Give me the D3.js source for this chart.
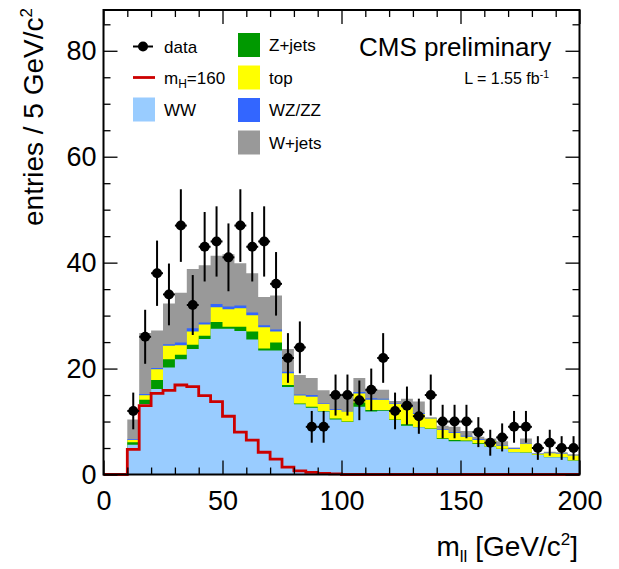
<!DOCTYPE html>
<html>
<head>
<meta charset="utf-8">
<script src="https://cdn.jsdelivr.net/npm/d3@7/dist/d3.min.js"></script>
<style>
  html, body { margin: 0; padding: 0; background: #fff; }
  svg { display: block; font-family: "Liberation Sans", Arial, Helvetica, sans-serif; }
</style>
</head>
<body>
<svg id="chart" width="619" height="569"></svg>
<script>
// ---- data (5 GeV bins, lower edges) ----
const binLow = [10,15,20,25,30,35,40,45,50,55,60,65,70,75,80,85,90,95,100,105,110,115,120,125,130,135,140,145,150,155,160,165,170,175,180,185,190,195];
const binWidth = 5;
const dataCounts = [12,26,38,34,47,32,43,44,41,47,43,44,36,22,24,9,9,15,15,14,16,22,12,13,11,15,10,10,10,8,6,7,9,9,5,6,5,5];
const WW    = [5.6,13.3,16.15,20.2,21.75,23.7,25.6,27.5,27.5,27.1,25.5,23.4,23.4,16.5,13.25,12.6,11.9,10.4,9.9,12.8,11.9,12.05,10.3,9.2,8.9,8.6,6.7,6.3,6.3,5.75,5.25,4.8,4.2,4.1,3.7,3.25,3.25,2.6];
const Zjets = [0.5,0.8,1.7,1.55,0.85,0.8,0.6,1.3,0.4,0.8,1.5,0.4,1.5,0.4,0.15,0.2,0.1,0.15,0.1,0.8,0.3,0.15,0.1,0.3,0.05,0.1,0.15,0.2,0.1,0.15,0.05,0.05,0.05,0.05,0.05,0.05,0.05,0.05];
const topQ  = [0.4,0.85,2.0,2.55,1.8,2.5,2.1,2.8,3.3,3.5,3.05,4.0,2.1,2.2,1.5,1.9,1.3,1.65,1.9,1.7,1.9,1.9,2.9,3.2,2.45,1.85,1.55,1.35,0.75,0.6,1.1,0.6,0.55,1.65,0.1,0.7,0.6,0.95];
const WZZZ  = [0.15,0.25,0.25,0.3,0.5,0.6,0.4,0.6,0.5,0.5,0.55,0.4,0.4,0.3,0.2,0.3,0.1,0.1,0.1,0.3,0.3,0.2,0.1,0.2,0.2,0.12,0.1,0.15,0.15,0.15,0.1,0.12,0.15,0.1,0.05,0.1,0.1,0.1];
const Wjets = [3.75,11.5,7.1,7.7,9.4,11.2,10.8,9.1,9.9,8.0,7.4,5.3,6.4,4.3,3.7,3.2,2.5,2.7,3.3,2.6,1.6,1.7,0.5,1.4,2.2,0.13,0.7,1.0,0.9,0.5,0.3,0.73,0.15,0.9,0.1,0.2,0.2,0.1];
const higgs = [4.75,13.0,15.3,15.9,16.9,16.6,14.9,13.75,11.0,8.0,6.5,4.2,2.9,1.4,0.7,0.4,0.2,0.1,0,0,0,0,0,0,0,0,0,0,0,0,0,0,0,0,0,0,0,0];
const xTicksMajor = [0,50,100,150,200];
const xTicksMinor = [10,20,30,40,60,70,80,90,110,120,130,140,160,170,180,190];
const yTicksMajor = [0,20,40,60,80];
const yTicksMinor = [5,10,15,25,30,35,45,50,55,65,70,75,85];

const stackNames  = ["WW","Z+jets","top","WZ/ZZ","W+jets"];
const stackSeries = [WW, Zjets, topQ, WZZZ, Wjets];
const stackColors = ["#99ccff","#009900","#ffff00","#3366ff","#999999"];

// ---- layout ----
const svg = d3.select("#chart");
const X0 = 103.5, X1 = 579.5, Y0 = 474.5, Y1 = 10;
const x = d3.scaleLinear().domain([0,200]).range([X0,X1]);
const y = d3.scaleLinear().domain([0,87.7]).range([Y0,Y1]);

// cumulative stacks
const cum = [];
let running = binLow.map(() => 0);
stackSeries.forEach(s => {
  running = running.map((v,i) => v + s[i]);
  cum.push(running.slice());
});

const area = d3.area()
  .x(d => x(d[0])).y0(y(0)).y1(d => y(d[1]))
  .curve(d3.curveStepAfter);

const plot = svg.append("g");
for (let L = cum.length - 1; L >= 0; L--) {
  const pts = binLow.map((b,i) => [b, cum[L][i]]);
  pts.push([binLow[binLow.length-1] + binWidth, cum[L][cum[L].length-1]]);
  plot.append("path").attr("d", area(pts)).attr("fill", stackColors[L]).attr("stroke", "none");
}

// Higgs line
const hpts = [[0,0]].concat(binLow.map((b,i) => [b, higgs[i]]));
hpts.push([200, higgs[higgs.length-1]]);
const line = d3.line().x(d => x(d[0])).y(d => y(d[1])).curve(d3.curveStepAfter);
plot.append("path").attr("d", line(hpts)).attr("fill","none")
  .attr("stroke","#cc0000").attr("stroke-width",2.8);

// axes (ticks inside)
function styleAxis(g) {
  g.select(".domain").remove();
  g.selectAll(".tick line").attr("stroke","#000").attr("stroke-width",1.3);
  g.selectAll(".tick text").attr("fill","#000").attr("font-size",27).attr("font-family",'"Liberation Sans", Arial, sans-serif');
}
svg.append("g").attr("transform",`translate(0,${Y0})`)
  .call(d3.axisBottom(x).tickValues(xTicksMajor).tickSize(-14).tickPadding(16).tickFormat(d3.format("d")))
  .call(styleAxis);
svg.append("g").attr("transform",`translate(0,${Y0})`)
  .call(d3.axisBottom(x).tickValues(xTicksMinor).tickSize(-7).tickFormat(""))
  .call(styleAxis);
svg.append("g").attr("transform",`translate(0,${Y1})`)
  .call(d3.axisTop(x).tickValues(xTicksMajor).tickSize(-14).tickFormat(""))
  .call(styleAxis);
svg.append("g").attr("transform",`translate(0,${Y1})`)
  .call(d3.axisTop(x).tickValues(xTicksMinor).tickSize(-7).tickFormat(""))
  .call(styleAxis);
svg.append("g").attr("transform",`translate(${X0},0)`)
  .call(d3.axisLeft(y).tickValues(yTicksMajor).tickSize(-14).tickPadding(7).tickFormat(d3.format("d")))
  .call(styleAxis);
svg.append("g").attr("transform",`translate(${X0},0)`)
  .call(d3.axisLeft(y).tickValues(yTicksMinor).tickSize(-7).tickFormat(""))
  .call(styleAxis);
svg.append("g").attr("transform",`translate(${X1},0)`)
  .call(d3.axisRight(y).tickValues(yTicksMajor).tickSize(-14).tickFormat(""))
  .call(styleAxis);
svg.append("g").attr("transform",`translate(${X1},0)`)
  .call(d3.axisRight(y).tickValues(yTicksMinor).tickSize(-7).tickFormat(""))
  .call(styleAxis);

// data points with Poisson errors
const dg = svg.append("g");
binLow.forEach((b,i) => {
  const n = dataCounts[i], e = Math.sqrt(n);
  const cx = x(b + binWidth/2);
  dg.append("line").attr("x1",cx).attr("x2",cx).attr("y1",y(n-e)).attr("y2",y(n+e))
    .attr("stroke","#000").attr("stroke-width",2);
  dg.append("line").attr("x1",x(b)).attr("x2",x(b+binWidth)).attr("y1",y(n)).attr("y2",y(n))
    .attr("stroke","#000").attr("stroke-width",2);
  dg.append("circle").attr("cx",cx).attr("cy",y(n)).attr("r",5).attr("fill","#000");
});

// frame
svg.append("rect").attr("x",X0).attr("y",Y1).attr("width",X1-X0).attr("height",Y0-Y1)
  .attr("fill","none").attr("stroke","#000").attr("stroke-width",2);

// axis titles
svg.append("text").attr("x",578).attr("y",556).attr("text-anchor","end").attr("font-size",28)
  .html('m<tspan font-size="17" dy="6">ll</tspan><tspan dy="-6"> [GeV/c</tspan><tspan font-size="17" dy="-11">2</tspan><tspan dy="11">]</tspan>');
svg.append("text").attr("transform","translate(43,8) rotate(-90)").attr("text-anchor","end").attr("font-size",28)
  .html('entries / 5 GeV/c<tspan font-size="17" dy="-11">2</tspan>');

// legend
const lg = svg.append("g").attr("font-size",17);
// data
lg.append("line").attr("x1",133).attr("x2",153).attr("y1",46.5).attr("y2",46.5).attr("stroke","#000").attr("stroke-width",2);
lg.append("circle").attr("cx",143).attr("cy",46.5).attr("r",5).attr("fill","#000");
lg.append("text").attr("x",164).attr("y",52.5).text("data");
// Higgs
lg.append("line").attr("x1",133).attr("x2",155).attr("y1",77.5).attr("y2",77.5).attr("stroke","#cc0000").attr("stroke-width",2.8);
lg.append("text").attr("x",164).attr("y",83.5).html('m<tspan font-size="12" dy="4">H</tspan><tspan dy="-4">=160</tspan>');
// stack entries
const legendBoxes = [
  {name: stackNames[0], color: stackColors[0], bx: 133, cy: 109.5},
  {name: stackNames[1], color: stackColors[1], bx: 238, cy: 45},
  {name: stackNames[2], color: stackColors[2], bx: 238, cy: 77.5},
  {name: stackNames[3], color: stackColors[3], bx: 238, cy: 110},
  {name: stackNames[4], color: stackColors[4], bx: 238, cy: 142.5}
];
legendBoxes.forEach(d => {
  lg.append("rect").attr("x",d.bx).attr("y",d.cy-12).attr("width",22).attr("height",24).attr("fill",d.color);
  lg.append("text").attr("x",d.bx+31).attr("y",d.cy+6).text(d.name);
});

// labels
svg.append("text").attr("x",359).attr("y",56).attr("font-size",26).text("CMS preliminary");
svg.append("text").attr("x",549).attr("y",84).attr("text-anchor","end").attr("font-size",16)
  .html('L = 1.55 fb<tspan font-size="10.5" dy="-6">-1</tspan>');
</script>
</body>
</html>
